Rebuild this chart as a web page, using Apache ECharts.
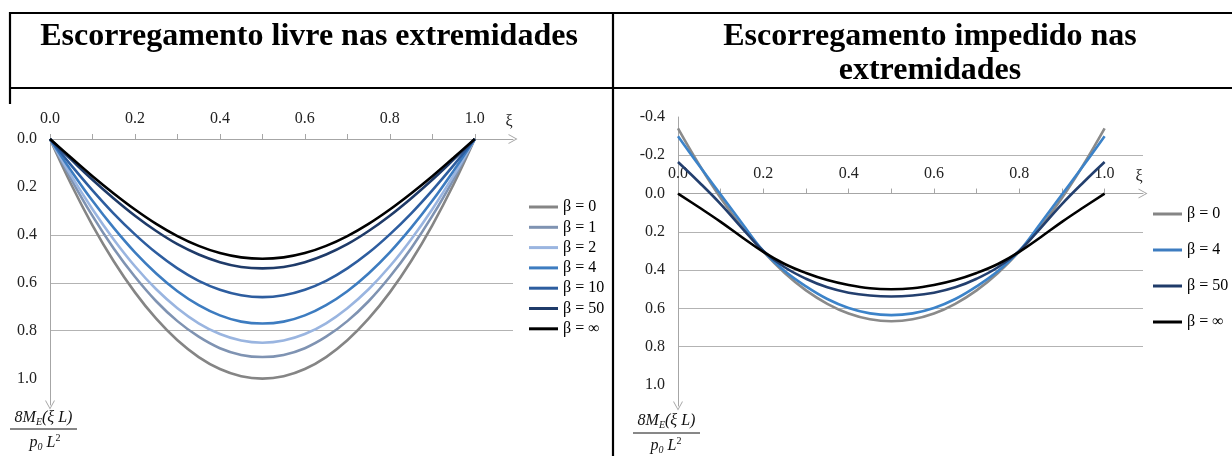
<!DOCTYPE html>
<html><head><meta charset="utf-8">
<script src="https://cdn.jsdelivr.net/npm/echarts@6/dist/echarts.min.js"></script>
<style>html,body{margin:0;padding:0;background:#fff}#c{width:1232px;height:456px}</style>
</head><body><div id="c"></div>
<script>
// ---- data ----
const xi = [0,0.05,0.1,0.15,0.2,0.25,0.3,0.35,0.4,0.45,0.5,0.55,0.6,0.65,0.7,0.75,0.8,0.85,0.9,0.95,1.0];

// left chart: free slip at the ends
const leftNames = ['β = 0','β = 1','β = 2','β = 4','β = 10','β = 50','β = ∞'];
const L_b0   = [0,0.19,0.36,0.51,0.64,0.75,0.84,0.91,0.96,0.99,1.00,0.99,0.96,0.91,0.84,0.75,0.64,0.51,0.36,0.19,0];
const L_b1   = [0,0.168,0.321,0.457,0.575,0.677,0.760,0.825,0.873,0.901,0.910,0.901,0.873,0.825,0.760,0.677,0.575,0.457,0.321,0.168,0];
const L_b2   = [0,0.153,0.293,0.419,0.531,0.627,0.706,0.769,0.814,0.841,0.850,0.841,0.814,0.769,0.706,0.627,0.531,0.419,0.293,0.153,0];
const L_b4   = [0,0.133,0.258,0.371,0.473,0.561,0.635,0.693,0.736,0.762,0.770,0.762,0.736,0.693,0.635,0.561,0.473,0.371,0.258,0.133,0];
const L_b10  = [0,0.110,0.214,0.311,0.398,0.475,0.540,0.592,0.629,0.652,0.660,0.652,0.629,0.592,0.540,0.475,0.398,0.311,0.214,0.110,0];
const L_b50  = [0,0.086,0.170,0.248,0.320,0.384,0.439,0.482,0.514,0.534,0.540,0.534,0.514,0.482,0.439,0.384,0.320,0.248,0.170,0.086,0];
const L_binf = [0,0.078,0.155,0.227,0.294,0.354,0.405,0.446,0.476,0.494,0.500,0.494,0.476,0.446,0.405,0.354,0.294,0.227,0.155,0.078,0];

// right chart: restrained slip at the ends
const rightNames = ['β = 0','β = 4','β = 50','β = ∞'];
const R_b0   = [-0.34,-0.149,0.023,0.174,0.304,0.415,0.506,0.576,0.627,0.657,0.667,0.657,0.627,0.576,0.506,0.415,0.304,0.174,0.023,-0.149,-0.34];
const R_b4   = [-0.30,-0.145,0.005,0.155,0.300,0.405,0.485,0.551,0.598,0.626,0.635,0.626,0.598,0.551,0.485,0.405,0.300,0.155,0.005,-0.145,-0.30];
const R_b50  = [-0.165,-0.058,0.055,0.180,0.300,0.385,0.445,0.490,0.518,0.533,0.538,0.533,0.518,0.490,0.445,0.385,0.300,0.180,0.055,-0.058,-0.165];
const R_binf = [0,0.073,0.148,0.228,0.305,0.368,0.415,0.452,0.478,0.495,0.500,0.495,0.478,0.452,0.415,0.368,0.305,0.228,0.148,0.073,0];

// tick values
const xTicks = [0,0.1,0.2,0.3,0.4,0.5,0.6,0.7,0.8,0.9,1.0];
const xLabels = [0,0.2,0.4,0.6,0.8,1.0];
const leftYLabels = [0,0.2,0.4,0.6,0.8,1.0];
const leftYGrid = [0.2,0.4,0.6,0.8,1.0];
const rightYLabels = [-0.4,-0.2,0,0.2,0.4,0.6,0.8,1.0];
const rightYGrid = [-0.4,-0.2,0.2,0.4,0.6,0.8,1.0];

// ---- styling ----
const SERIF = '"Liberation Serif", "Times New Roman", serif';
const leftColors = ['#858585','#7f93b2','#9ab5e0','#3d7cc0','#2d5d9f','#1f3b69','#000000'];
const rightColors = ['#8a8a8a','#3c83c9','#233f6e','#000000'];
const leftData = [L_b0,L_b1,L_b2,L_b4,L_b10,L_b50,L_binf];
const rightData = [R_b0,R_b4,R_b50,R_binf];
const axisGrey = '#a6a6a6';
const gridGrey = '#b3b3b3';
const chevron = 'path://M0,9 L5,0 L10,9 L9,9 L5,1.8 L1,9 Z';

const Y_MAX = 1.11;
const RIGHT_Y_MIN = -0.4;
const RIGHT_GRID_H = 289;
// right x axis sits where y = 0 inside the right grid
const rightXOffset = -((0 - RIGHT_Y_MIN) / (Y_MAX - RIGHT_Y_MIN)) * RIGHT_GRID_H;

function on02(v){ return Math.abs(v/0.2 - Math.round(v/0.2)) < 1e-6; }
function fmt(v){ return on02(v) ? (Math.abs(v) < 1e-9 ? '0.0' : v.toFixed(1)) : ''; }

function xAxisCfg(grid, offset){
  return {
    type:'value', gridIndex:grid, position:'top', offset:offset, min:0, max:1.09, interval:0.1,
    name:'ξ', nameLocation:'end', nameGap:-4,
    nameTextStyle:{fontFamily:SERIF, fontSize:16, color:'#222', align:'center', verticalAlign:'bottom', padding:[0,0,9,0]},
    axisLine:{show:true, onZero:false, symbol:['none', chevron], symbolSize:[11,9], lineStyle:{color:axisGrey, width:1}},
    axisTick:{show:true, length:5, customValues:xTicks, lineStyle:{color:axisGrey}},
    axisLabel:{customValues:xLabels, formatter:fmt, margin:12, fontFamily:SERIF, fontSize:16, color:'#222'},
    splitLine:{show:false}
  };
}
function yAxisCfg(grid, min, labels, gridVals){
  return {
    type:'value', gridIndex:grid, inverse:true, min:min, max:Y_MAX, interval:0.2,
    axisLine:{show:true, onZero:false, symbol:[chevron, 'none'], symbolSize:[11,9], lineStyle:{color:axisGrey, width:1}},
    axisTick:{show:false, customValues:gridVals},
    axisLabel:{customValues:labels, formatter:fmt, margin:13, fontFamily:SERIF, fontSize:16, color:'#222'},
    splitLine:{show:true, showMinLine:false, showMaxLine:false, lineStyle:{color:gridGrey, width:1}}
  };
}

const series = [];
leftNames.forEach((n,i)=>{
  series.push({name:n, type:'line', xAxisIndex:0, yAxisIndex:0, smooth:0.4, symbol:'none', showSymbol:false,
    data: xi.map((x,k)=>[x, leftData[i][k]]),
    lineStyle:{color:leftColors[i], width:2.6}, itemStyle:{color:leftColors[i]}, z: 2+i});
});
rightNames.forEach((n,i)=>{
  series.push({name:n, type:'line', xAxisIndex:1, yAxisIndex:1, smooth:0.4, symbol:'none', showSymbol:false,
    data: xi.map((x,k)=>[x, rightData[i][k]]),
    lineStyle:{color:rightColors[i], width:2.6}, itemStyle:{color:rightColors[i]}, z: 2+i});
});

function fraction(cx, yNum, yBar, xa, xb, cxDen, yDen){
  const it = {fontFamily:SERIF, fontStyle:'italic', fontSize:16, lineHeight:19, fill:'#111'};
  const sub = {fontFamily:SERIF, fontStyle:'italic', fontSize:10, lineHeight:19, verticalAlign:'bottom', fill:'#111'};
  const sup = {fontFamily:SERIF, fontSize:10, lineHeight:19, verticalAlign:'top', fill:'#111'};
  return [
    {type:'text', x:cx, y:yNum, style:{text:'{n|8M}{s|E}{n|(ξ L)}', align:'center', verticalAlign:'middle', rich:{n:it, s:sub}}},
    {type:'line', shape:{x1:xa, y1:yBar, x2:xb, y2:yBar}, style:{stroke:'#111', lineWidth:1}},
    {type:'text', x:cxDen, y:yDen, style:{text:'{n|p}{s|0}{n| L}{u|2}', align:'center', verticalAlign:'middle', rich:{n:it, s:sub, u:sup}}}
  ];
}

const titleFont = 'bold 32px ' + SERIF;
const graphic = [
  {type:'line', shape:{x1:9,y1:13,x2:1232,y2:13}, style:{stroke:'#000', lineWidth:2.2}},
  {type:'line', shape:{x1:9,y1:88,x2:1232,y2:88}, style:{stroke:'#000', lineWidth:2.2}},
  {type:'line', shape:{x1:10,y1:12,x2:10,y2:104}, style:{stroke:'#000', lineWidth:2.2}},
  {type:'line', shape:{x1:613,y1:12,x2:613,y2:456}, style:{stroke:'#000', lineWidth:2.2}},
  {type:'text', x:309, y:37, style:{text:'Escorregamento livre nas extremidades', font:titleFont, fill:'#000', align:'center', verticalAlign:'middle'}},
  {type:'text', x:930, y:37, style:{text:'Escorregamento impedido nas', font:titleFont, fill:'#000', align:'center', verticalAlign:'middle'}},
  {type:'text', x:930, y:71, style:{text:'extremidades', font:titleFont, fill:'#000', align:'center', verticalAlign:'middle'}}
].concat(fraction(43.5, 418, 429, 10, 77, 45, 443))
 .concat(fraction(666.5, 421, 433, 633, 700, 666, 446));

const legendBase = {orient:'vertical', itemWidth:29, itemHeight:3, icon:'rect', padding:0, selectedMode:false,
  textStyle:{fontFamily:SERIF, fontSize:16, color:'#000', lineHeight:16}};

const option = {
  backgroundColor:'#fff',
  animation:false,
  grid:[
    {left:50, top:139, width:463, height:266, containLabel:false},
    {left:678, top:117, width:465, height:RIGHT_GRID_H, containLabel:false}
  ],
  xAxis:[xAxisCfg(0, 0), xAxisCfg(1, rightXOffset)],
  yAxis:[yAxisCfg(0, 0, leftYLabels, leftYGrid), yAxisCfg(1, RIGHT_Y_MIN, rightYLabels, rightYGrid)],
  legend:[
    Object.assign({}, legendBase, {data:leftNames, left:529, top:199, itemGap:4.3}),
    Object.assign({}, legendBase, {data:rightNames, left:1153, top:206, itemGap:20})
  ],
  graphic: graphic,
  series: series
};
const chart = echarts.init(document.getElementById('c'), null, {renderer:'canvas'});
chart.setOption(option);
</script>
</body></html>
